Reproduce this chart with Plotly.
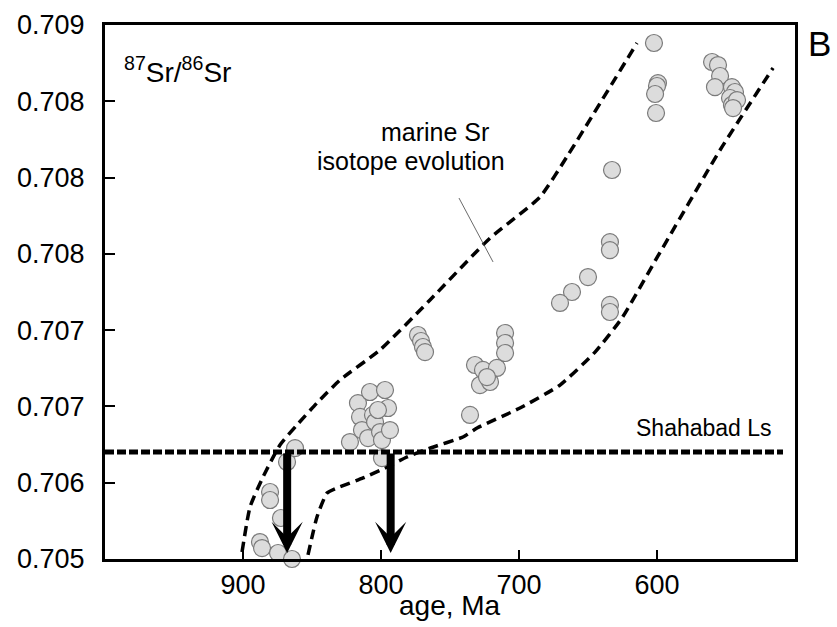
import numpy as np
import plotly.graph_objects as go

# --- data ---
ages = [887.7, 886.2, 874.6, 864.5, 880.4, 880.4, 872.5, 868.1, 862.3,
        822.5, 816.7, 815.2, 813.8, 808.0, 805.8, 804.3, 809.4, 800.7, 799.3,
        797.1, 794.9, 793.5, 799.3, 802.2,
        773.2, 771.0, 769.6, 768.1,
        731.9, 726.1, 716.0, 728.3, 721.0, 723.2, 710.1, 710.1, 710.1, 735.5,
        632.6, 634.1, 634.1, 650.0, 661.6, 670.3, 634.1, 634.1,
        602.2, 599.3, 600.0, 601.4, 600.7,
        560.1, 555.8, 554.3, 558.0, 545.7, 543.5, 547.1, 545.7, 542.0, 544.9]
sr = [0.705127, 0.705082, 0.705045, 0.705000, 0.705502, 0.705442, 0.705307, 0.705727, 0.705831,
      0.705876, 0.706168, 0.706064, 0.705966, 0.706251, 0.706079, 0.706026, 0.705906, 0.705951, 0.705891,
      0.706266, 0.706131, 0.705966, 0.705756, 0.706116,
      0.706678, 0.706633, 0.706588, 0.706550,
      0.706453, 0.706416, 0.706431, 0.706303, 0.706326, 0.706363, 0.706693, 0.706618, 0.706543, 0.706079,
      0.707914, 0.707374, 0.707314, 0.707112, 0.707000, 0.706918, 0.706903, 0.706850,
      0.708865, 0.708565, 0.708543, 0.708483, 0.708341,
      0.708723, 0.708700, 0.708618, 0.708535, 0.708535, 0.708498, 0.708453, 0.708401, 0.708438, 0.708378]

upper_age = [900.7, 894.9, 885.5, 873.2, 860.9, 846.4, 829.7, 800.7, 764.5, 721.0, 684.8, 664.5, 614.5]
upper_sr = [0.705052, 0.705390, 0.705614, 0.705854, 0.706004, 0.706169, 0.706341, 0.706566,
            0.706940, 0.707404, 0.707711, 0.708026, 0.708865]
lower_age = [852.9, 846.4, 839.1, 831.9, 813.0, 795.7, 781.2, 764.5, 740.6, 730.4, 699.3, 670.3,
             644.9, 625.4, 599.3, 554.3, 515.9]
lower_sr = [0.705030, 0.705315, 0.705494, 0.705532, 0.705607, 0.705689, 0.705764, 0.705831,
            0.705914, 0.705981, 0.706131, 0.706303, 0.706550, 0.706805, 0.707270, 0.708064, 0.708678]

shahabad_sr = 0.705801
shahabad_age_span = [1000, 508.7]
arrow_ages = [868, 793]
arrow_tip_sr = 0.705045
leader_age = [743.5, 718.8]
leader_sr = [0.707704, 0.707225]

x_ticks = [900, 800, 700, 600]
y_tick_labels = ["0.705", "0.706", "0.707", "0.707", "0.708", "0.708", "0.708", "0.709"]
y_tick_vals = list(np.linspace(0.705, 0.709, len(y_tick_labels)))

FONT = "Liberation Sans, Arial, Helvetica, sans-serif"

fig = go.Figure()
for xa, ya in ((upper_age, upper_sr), (lower_age, lower_sr)):
    fig.add_trace(go.Scatter(x=xa, y=ya, mode="lines",
                             line=dict(color="black", width=3.5, dash="10px,6px",
                                       shape="spline", smoothing=0.5),
                             hoverinfo="skip", showlegend=False))
fig.add_trace(go.Scatter(x=leader_age, y=leader_sr, mode="lines",
                         line=dict(color="#444", width=0.8),
                         hoverinfo="skip", showlegend=False))
fig.add_trace(go.Scatter(x=ages, y=sr, mode="markers", cliponaxis=False,
                         marker=dict(size=17, color="#dcdcdc",
                                     line=dict(color="#7a7a7a", width=1.2)),
                         showlegend=False))
fig.add_trace(go.Scatter(x=shahabad_age_span, y=[shahabad_sr, shahabad_sr], mode="lines",
                         line=dict(color="black", width=5, dash="9px,3px"),
                         hoverinfo="skip", showlegend=False))

for a in arrow_ages:
    fig.add_annotation(x=a, y=arrow_tip_sr, ax=a, ay=shahabad_sr, xref="x", yref="y",
                       axref="x", ayref="y", showarrow=True, arrowhead=3, arrowsize=0.65,
                       arrowwidth=8, arrowcolor="black", text="", standoff=0)

def txt(x, y, s, size, xanchor="center"):
    fig.add_annotation(x=x, y=y, xref="paper", yref="paper", xanchor=xanchor, yanchor="middle",
                       text=s, showarrow=False, font=dict(size=size, color="black", family=FONT))

txt(0.025, 0.915, "<sup>87</sup>Sr/<sup>86</sup>Sr", 28, "left")
txt(0.478, 0.799, "marine Sr", 25)
txt(0.443, 0.746, "isotope evolution", 25)
txt(0.97, 0.245, "Shahabad Ls", 23, "right")
txt(1.036, 0.966, "B", 35)
txt(0.5, -0.088, "age, Ma", 28)

fig.update_layout(
    width=837, height=627,
    margin=dict(l=105, r=42, t=25, b=68),
    plot_bgcolor="white", paper_bgcolor="white",
    font=dict(family=FONT, color="black", size=26),
    xaxis=dict(range=[1000, 500], tickvals=x_ticks, ticks="inside", ticklen=9, tickwidth=2,
               tickcolor="black", showline=True, linewidth=3, linecolor="black", mirror=True,
               showgrid=False, zeroline=False, automargin=False,
               tickfont=dict(size=27)),
    yaxis=dict(range=[0.705, 0.709], tickvals=y_tick_vals, ticktext=y_tick_labels,
               ticks="inside", ticklen=10, tickwidth=2, tickcolor="black",
               showline=True, linewidth=3, linecolor="black", mirror=True, automargin=False,
               showgrid=False, zeroline=False, ticklabelstandoff=12, tickfont=dict(size=27)),
)

fig.write_html("out.html")
